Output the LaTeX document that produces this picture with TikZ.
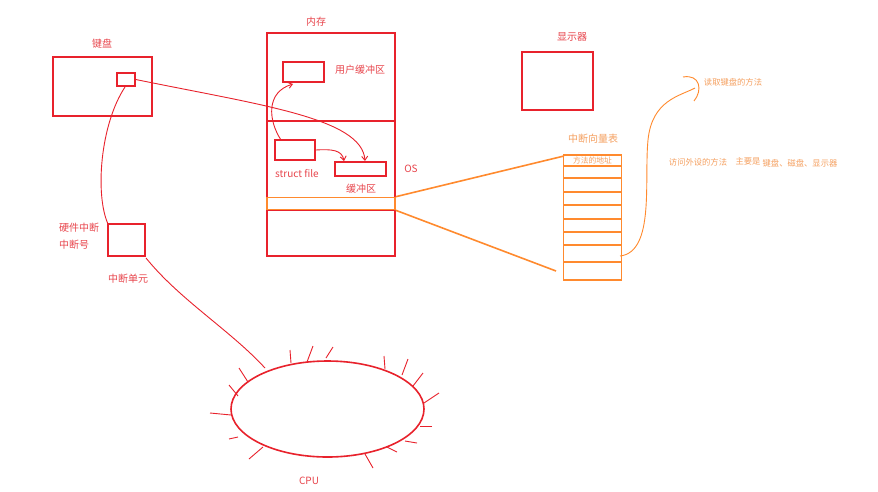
\documentclass[tikz,border=0pt]{standalone}
\usepackage{fontspec}
\setmainfont{Noto Sans CJK SC}
\usetikzlibrary{shapes.geometric,arrows.meta}
\definecolor{rd}{HTML}{E8222C}
\definecolor{rdt}{HTML}{E8454C}
\definecolor{og}{HTML}{FF8A2E}
\definecolor{ogt}{HTML}{F5A060}
\tikzset{
  rbox/.style={draw=rd,line width=1.6pt,inner sep=0pt,rectangle},
  obox/.style={draw=og,line width=1.6pt,inner sep=0pt,rectangle},
  rlab/.style={text=rdt,font=\fontsize{10}{12}\selectfont,inner sep=0pt},
  olab/.style={text=ogt,font=\fontsize{8.3}{10}\selectfont,inner sep=0pt},
  rline/.style={draw=rd,line width=0.9pt},
  oline/.style={draw=og,line width=1.6pt},
  rarr/.style={rline,-{Straight Barb[length=4pt,width=6pt]}},
}
\begin{document}
\begin{tikzpicture}[x=1pt,y=-1pt]
\useasboundingbox[fill=white] (0,0) rectangle (878,491);
% keyboard
\node[rlab] (kbl) at (102,44) {键盘};
\node[rbox,minimum width=99pt,minimum height=59pt] (kb) at (102.5,86.5) {};
\node[rbox,minimum width=18pt,minimum height=13pt] (kbs) at (126,79.5) {};
% memory
\node[rlab] (meml) at (316,22) {内存};
\node[rbox,minimum width=128pt,minimum height=223pt] (mem) at (331,144.5) {};
\coordinate (d1l) at (267,121); \coordinate (d1r) at (395,121);
\coordinate (d2l) at (267,210); \coordinate (d2r) at (395,210);
\draw[rd,line width=1.6pt] (d1l) -- (d1r);
\draw[rd,line width=1.6pt] (d2l) -- (d2r);
\node[obox,minimum width=128pt,minimum height=12pt] (strip) at (331,203.5) {};
\node[rbox,minimum width=41pt,minimum height=20pt] (ub) at (303.5,72) {};
\node[rlab] (ubl) at (360,70) {用户缓冲区};
\node[rbox,minimum width=40pt,minimum height=20pt] (sf) at (295,150) {};
\node[rlab] (sfl) at (297,174) {struct file};
\node[rbox,minimum width=51pt,minimum height=14pt] (buf) at (360.5,169) {};
\node[rlab] (bufl) at (361,189) {缓冲区};
\node[rlab] (osl) at (411,169) {OS};
% monitor
\node[rlab] (monl) at (572,37) {显示器};
\node[rbox,minimum width=71pt,minimum height=58pt] (mon) at (557.5,81) {};
% interrupt vector table
\node[text=ogt,font=\fontsize{10}{12}\selectfont,inner sep=0pt] (ivtl) at (593,139) {中断向量表};
\node[obox,minimum width=58pt,minimum height=125pt] (ivt) at (592.5,217.5) {};
\foreach \yy in {166,178,192,205,219,232,245,262}
  \draw[og,line width=1.6pt] (563.5,\yy) -- (621.5,\yy);
\node[olab,font=\fontsize{7.8}{9}\selectfont] (addr) at (592.5,160.5) {方法的地址};
\coordinate (t1) at (564,156);
\coordinate (t2) at (556,271);
\draw[oline] (strip.north east) -- (t1);
\draw[oline] (strip.south east) -- (t2);
% orange curve
\coordinate (c0) at (620,256);
\coordinate (c1) at (648,140);
\coordinate (c2) at (695,88);
\coordinate (h0) at (683,77);
\coordinate (h1) at (694,101);
\draw[og,line width=0.9pt] (c0) .. controls (655,252) and (644,180) .. (c1) .. controls (652,100) and (680,96) .. (c2);
\draw[og,line width=0.9pt] (h0) .. controls (700,74) and (703,90) .. (h1);
\node[olab] (readl) at (733,82) {读取键盘的方法};
\node[olab] (accl) at (698,162) {访问外设的方法};
\node[olab] (mainl) at (748,161) {主要是};
\node[olab] (devl) at (800,163) {键盘、磁盘、显示器};
% interrupt unit
\node[rlab] (hwl) at (79,228) {硬件中断};
\node[rlab] (inl) at (74,245) {中断号};
\node[rbox,minimum width=37pt,minimum height=32pt] (ib) at (126.5,240) {};
\node[rlab] (iul) at (128,279) {中断单元};
% CPU
\node[draw=rd,line width=1.6pt,ellipse,minimum width=193pt,minimum height=96pt,inner sep=0pt] (cpu) at (327.5,409) {};
\node[rlab] (cpul) at (309,481) {CPU};
\foreach \ax/\ay/\bx/\by in {290/350/291/363, 313/346/307/362, 333/347/326/358, 384/356/385/369,
  408/359/402/375, 423/373/413/386, 439/393/424/403, 432/426/420/426, 417/443/405/441,
  397/452/387/447, 365/454/373/468, 263/447/249/459, 238/437/229/439, 210/413/231/415,
  229/385/238/396, 239/368/248/382}
  \draw[rd,line width=0.9pt] (\ax,\ay) -- (\bx,\by);
% connectors
\coordinate (bufin) at (365,161);
\draw[rarr] (kbs.east) .. controls (260,105) and (362,118) .. (bufin);
\coordinate (bufin2) at (344,161);
\draw[rarr] (sf.east) .. controls (332,149) and (342,150) .. (bufin2);
\coordinate (sfo) at (281,140);
\coordinate (ubin) at (293,84);
\draw[rarr] (sfo) .. controls (268,120) and (266,92) .. (ubin);
\coordinate (kbo) at (125,87);
\coordinate (ibin) at (108,224);
\draw[rline] (kbo) .. controls (100,125) and (95,195) .. (ibin);
\coordinate (ibo) at (146,258);
\coordinate (cpuin) at (265,368);
\draw[rline] (ibo) .. controls (180,300) and (230,330) .. (cpuin);
\end{tikzpicture}
\end{document}
